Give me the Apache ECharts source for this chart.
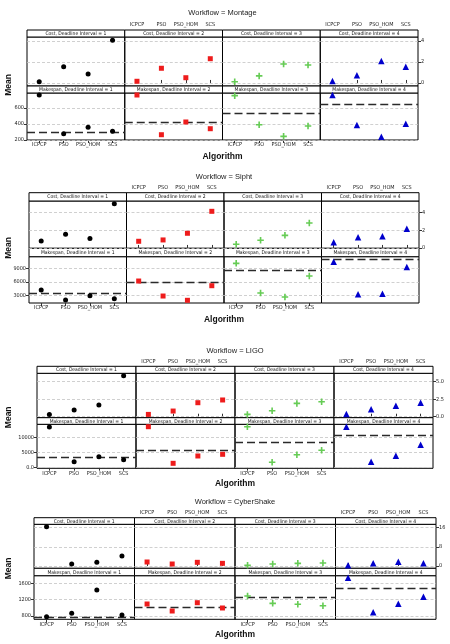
<!DOCTYPE html>
<html>
<head>
<meta charset="utf-8">
<script src="https://cdn.jsdelivr.net/npm/echarts@6/dist/echarts.min.js"></script>
<style>
  html, body { margin: 0; padding: 0; background: #fff; }
  #chart { width: 450px; height: 644px; }
</style>
</head>
<body>
<div id="chart"></div>
<script>
// categories
const algorithms = ['ICPCP', 'PSO', 'PSO_HOM', 'SCS']
const workflows = ['Montage', 'Sipht', 'LIGO', 'CyberShake']
const intervals = [1, 2, 3, 4]

// mean values, one row per deadline interval, in algorithm order
const montageCost = [[0.12, 1.55, 0.86, 4.07], [0.16, 1.4, 0.5, 2.31], [0.12, 0.67, 1.81, 1.71], [0.19, 0.73, 2.1, 1.55]]
const montageMakespan = [[762, 279, 358, 308], [762, 266, 425, 341], [754, 391, 246, 375], [762, 387, 241, 404]]
const montageDeadline = [300, 425, 537, 650]

const siphtCost = [[0.79, 1.54, 1.05, 4.98], [0.75, 0.9, 1.65, 4.12], [0.41, 0.86, 1.42, 2.81], [0.64, 1.2, 1.31, 2.17]]
const siphtMakespan = [[4180, 1960, 2910, 2250], [6170, 2840, 1890, 5130], [10100, 3510, 2620, 7280], [10460, 3220, 3360, 9280]]
const siphtDeadline = [3360, 5890, 8550, 11000]

const ligoCost = [[0.33, 0.96, 1.67, 5.86], [0.33, 0.81, 2.0, 2.39], [0.33, 0.86, 1.9, 2.14], [0.38, 1.05, 1.57, 2.0]]
const ligoMakespan = [[13560, 2000, 3660, 2660], [13650, 1460, 3900, 4460], [13650, 1800, 4330, 5790], [13650, 2000, 4000, 7660]]
const ligoDeadline = [3330, 5790, 8330, 10890]

const cyberCost = [[16.4, 0.83, 1.53, 4.17], [1.67, 0.83, 1.53, 1.11], [0.28, 0.83, 1.11, 1.25], [0.28, 1.1, 1.8, 1.1]]
const cyberMakespan = [[783, 866, 1440, 825], [1095, 923, 1127, 997], [1292, 1112, 1088, 1053], [1742, 891, 1103, 1275]]
const cyberDeadline = [775, 1021, 1250, 1489]

// tick labels
const costTicks = [[0, 2, 4], [0, 2, 4], [0, 2.5, 5], [0, 8, 16]]
const makespanTicks = [[200, 400, 600], [3000, 6000, 9000], [0, 5000, 10000], [800, 1200, 1600]]
const costRange = [[-0.29, 4.38], [-0.04, 5.28], [-0.14, 6.2], [-0.96, 17.4]]
const makespanRange = [[200, 787], [1290, 11570], [-200, 14450], [719, 1791]]

const costData = [montageCost, siphtCost, ligoCost, cyberCost]
const makespanData = [montageMakespan, siphtMakespan, ligoMakespan, cyberMakespan]
const deadlineData = [montageDeadline, siphtDeadline, ligoDeadline, cyberDeadline]

// page layout of each workflow block
const blocks = [
    { top: 30, s1: 37, mid: 86, s2: 93, bottom: 140, left: 27, right: 418, titleY: 13, algY: 157 },
    { top: 192.7, s1: 201, mid: 248.3, s2: 256.7, bottom: 303, left: 29, right: 419, titleY: 177, algY: 320 },
    { top: 366.3, s1: 373.3, mid: 417.7, s2: 424.3, bottom: 468.3, left: 37, right: 433, titleY: 351, algY: 484 },
    { top: 517.7, s1: 524.3, mid: 568.3, s2: 575.7, bottom: 619.3, left: 34, right: 436, titleY: 502, algY: 635 }
]

const markers = [
    { symbol: 'circle', size: 5, color: '#000' },
    { symbol: 'rect', size: 5, color: '#ee1c1c' },
    { symbol: 'path://M3,0H5V3H8V5H5V8H3V5H0V3H3Z', size: 6.5, color: '#66cc55' },
    { symbol: 'triangle', size: 6.5, color: '#0000cc' }
]

const smallFont = '"Liberation Sans Narrow", "DejaVu Sans Condensed", "Liberation Sans", sans-serif'
const fmt = (w) => (v) => w === 2 && v < 100 ? v.toFixed(1) : String(v)

const grid = [], xAxis = [], yAxis = [], series = [], graphic = []

workflows.forEach((wf, w) => {
    const b = blocks[w]
    const colW = (b.right - b.left) / 4
    const cx = (b.left + b.right) / 2

    graphic.push({ type: 'text', x: cx, y: b.titleY, style: { text: 'Workflow = ' + wf, fontSize: 7.5, fontFamily: '"Liberation Sans", sans-serif', fill: '#222', align: 'center', verticalAlign: 'middle' } })
    graphic.push({ type: 'text', x: cx, y: b.algY, style: { text: 'Algorithm', fontSize: 8.5, fontWeight: 'bold', fontFamily: '"Liberation Sans", sans-serif', fill: '#111', align: 'center', verticalAlign: 'middle' } })
    graphic.push({ type: 'text', x: 9, y: (b.top + b.bottom) / 2, rotation: Math.PI / 2, style: { text: 'Mean', fontSize: 8.5, fontWeight: 'bold', fontFamily: '"Liberation Sans", sans-serif', fill: '#111', align: 'center', verticalAlign: 'middle' } })

    const rows = [
        { name: 'Cost', stripTop: b.top, top: b.s1, bottom: b.mid, data: costData[w], ticks: costTicks[w], range: costRange[w] },
        { name: 'Makespan', stripTop: b.mid, top: b.s2, bottom: b.bottom, data: makespanData[w], ticks: makespanTicks[w], range: makespanRange[w] }
    ]

    rows.forEach((row, r) => {
        intervals.forEach((iv, c) => {
            const idx = grid.length
            const gl = b.left + c * colW
            grid.push({
                left: gl, top: row.top, width: colW, height: row.bottom - row.top,
                show: true, borderColor: '#000', borderWidth: 1, backgroundColor: 'transparent',
                containLabel: false, outerBoundsMode: 'none'
            })

            // strip above each panel
            graphic.push({ type: 'rect', shape: { x: gl, y: row.stripTop, width: colW, height: row.top - row.stripTop }, style: { fill: '#fff', stroke: '#000', lineWidth: 1 } })
            graphic.push({ type: 'text', x: gl + colW / 2, y: (row.stripTop + row.top) / 2 + 0.3, style: { text: row.name + ', Deadline Interval = ' + iv, fontSize: 5, fontFamily: smallFont, fill: '#111', align: 'center', verticalAlign: 'middle' } })

            const topLabels = r === 0 && (c === 1 || c === 3)
            const bottomLabels = r === 1 && (c === 0 || c === 2)
            xAxis.push({
                gridIndex: idx, type: 'category', data: algorithms, boundaryGap: true,
                show: topLabels || bottomLabels,
                position: topLabels ? 'top' : 'bottom',
                offset: topLabels ? row.top - row.stripTop : 0,
                axisLine: { show: false },
                axisTick: { show: true, alignWithLabel: true, length: 3, lineStyle: { color: '#333' } },
                axisLabel: { fontSize: 5.5, fontFamily: smallFont, color: '#222', margin: 2, interval: 0 },
                splitLine: { show: false }
            })

            const rightLabels = r === 0 && c === 3
            const leftLabels = r === 1 && c === 0
            yAxis.push({
                gridIndex: idx, type: 'value', min: row.range[0], max: row.range[1],
                show: rightLabels || leftLabels,
                position: rightLabels ? 'right' : 'left',
                axisLine: { show: false },
                axisTick: { show: true, length: 3, customValues: row.ticks, lineStyle: { color: '#333' } },
                axisLabel: { fontSize: 5.5, fontFamily: smallFont, color: '#222', margin: 3, customValues: row.ticks, formatter: fmt(w) },
                splitLine: { show: false }
            })

            const lines = row.ticks.map(v => ({ yAxis: v, lineStyle: { color: '#c4c4c4', type: [3, 2], width: 0.8 } }))
            if (r === 1) {
                lines.push({ yAxis: deadlineData[w][c], lineStyle: { color: '#2a2a2a', type: [8, 4], width: 1.4 } })
            }

            series.push({
                type: 'scatter', xAxisIndex: idx, yAxisIndex: idx,
                data: row.data[c],
                symbol: markers[c].symbol, symbolSize: markers[c].size,
                itemStyle: { color: markers[c].color, opacity: 1 },
                z: 5,
                markLine: { silent: true, symbol: ['none', 'none'], label: { show: false }, animation: false, data: lines }
            })
        })
    })
})

const chart = echarts.init(document.getElementById('chart'))
chart.setOption({
    animation: false,
    grid: grid,
    xAxis: xAxis,
    yAxis: yAxis,
    series: series,
    graphic: graphic
})
</script>
</body>
</html>
